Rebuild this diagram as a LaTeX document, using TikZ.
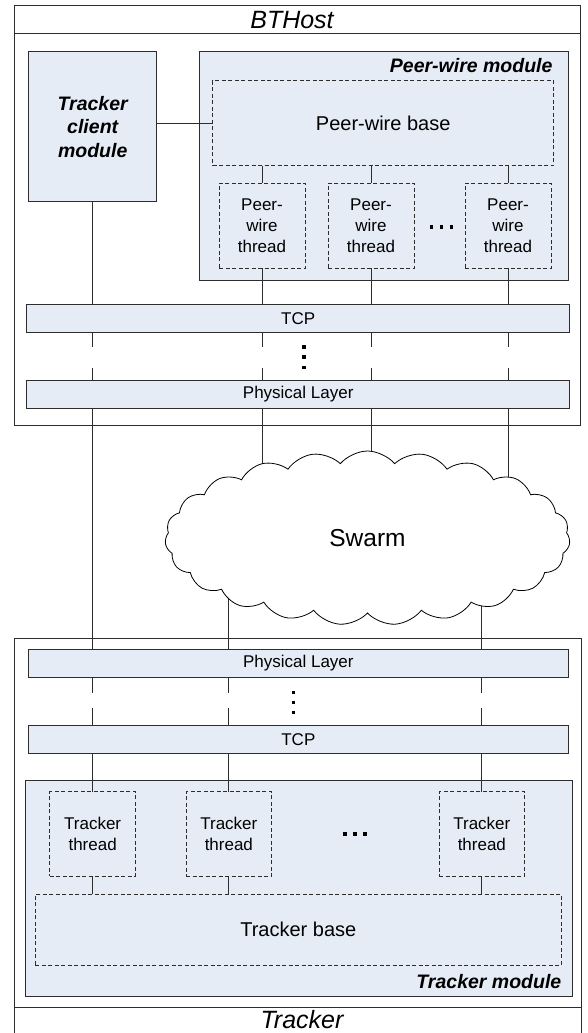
\documentclass[tikz,border=0pt]{standalone}
\usepackage{fontspec}
\setmainfont{Liberation Sans}
\usetikzlibrary{shapes.symbols,backgrounds,calc}
\definecolor{boxfill}{RGB}{230,236,246}
\definecolor{edgecol}{RGB}{45,45,45}
\begin{document}
\begin{tikzpicture}[x=1pt,y=-1pt,
  every node/.style={inner sep=0pt, outer sep=0pt},
  frame/.style={draw=edgecol, line width=1pt, anchor=north west},
  solidbox/.style={draw=edgecol, line width=1pt, fill=boxfill, anchor=north west, align=center},
  dashbox/.style={draw=edgecol, line width=0.9pt, dash pattern=on 4pt off 2.5pt, fill=boxfill, anchor=north west, align=center},
  wire/.style={draw=edgecol, line width=0.9pt},
  dotsq/.style={fill=black, minimum size=3.6pt},
  titlefont/.style={font=\fontsize{25}{30}\selectfont\itshape},
  modfont/.style={font=\fontsize{19.5}{23.7}\selectfont\bfseries\itshape},
  basefont/.style={font=\fontsize{20}{24}\selectfont},
  thrfont/.style={font=\fontsize{17}{20.7}\selectfont},
  barfont/.style={font=\fontsize{17}{20}\selectfont},
]
\useasboundingbox (0,0) rectangle (588,1033);

% ---------------- BTHost ----------------
\node[frame, minimum width=566.5pt, minimum height=419pt] (bthost) at (14,6) {};
\draw[edgecol, line width=1pt] ([yshift=-28pt]bthost.north west) -- ([yshift=-28pt]bthost.north east);
\node[titlefont, anchor=base] (bthosttitle) at (292,29) {BTHost};

\node[solidbox, modfont, minimum width=128pt, minimum height=149.7pt] (tc) at (28.7,52) {Tracker\\client\\module};

\node[solidbox, minimum width=369.3pt, minimum height=228pt] (pwm) at (199,52) {};
\node[modfont, anchor=base east] (pwmlabel) at (552.5,72.7) {Peer-wire module};

\node[dashbox, basefont, minimum width=341pt, minimum height=85pt] (pwb) at (212.7,80.7) {Peer-wire base};

\node[dashbox, thrfont, minimum width=86pt, minimum height=85.3pt] (pt1) at (219,183) {Peer-\\wire\\thread};
\node[dashbox, thrfont, minimum width=86pt, minimum height=85.3pt] (pt2) at (328,183) {Peer-\\wire\\thread};
\node[dashbox, thrfont, minimum width=86pt, minimum height=85.3pt] (pt3) at (465,183) {Peer-\\wire\\thread};

\node[dotsq] (pdA) at (431.5,227) {};
\node[dotsq] (pdB) at (441.5,227) {};
\node[dotsq] (pdC) at (451.5,227) {};

\node[solidbox, barfont, minimum width=543pt, minimum height=28.4pt] (tcp1) at (26.7,304.3) {TCP};
\node[solidbox, barfont, minimum width=543pt, minimum height=28.4pt] (pl1) at (26.7,380.3) {Physical Layer};

\node[dotsq] (vdA) at (303.8,346.7) {};
\node[dotsq] (vdB) at (303.8,357) {};
\node[dotsq] (vdC) at (303.8,367.3) {};

\coordinate (g1top) at (0,347);
\coordinate (g1bot) at (0,368.3);

% ---------------- Swarm ----------------
\node[cloud, cloud puffs=23, cloud puff arc=100, cloud ignores aspect, draw=black, line width=0.8pt, fill=white,
      minimum width=405pt, minimum height=174pt, font=\fontsize{24.5}{29}\selectfont] (swarm) at (367.5,538) {Swarm};

% ---------------- Tracker ----------------
\node[frame, minimum width=567pt, minimum height=397pt] (trk) at (14,638.3) {};
\draw[edgecol, line width=1pt] ([yshift=-369.4pt]trk.north west) -- ([yshift=-369.4pt]trk.north east);
\node[titlefont, anchor=base] (trktitle) at (302,1028.5) {Tracker};

\node[solidbox, barfont, minimum width=539.3pt, minimum height=28.3pt] (pl2) at (28.7,649) {Physical Layer};
\node[solidbox, barfont, minimum width=539.3pt, minimum height=28pt] (tcp2) at (28.7,725.7) {TCP};

\node[dotsq] (vdD) at (293.5,692.3) {};
\node[dotsq] (vdE) at (293.5,702.3) {};
\node[dotsq] (vdF) at (293.5,712.3) {};

\coordinate (g2top) at (0,693.3);
\coordinate (g2bot) at (0,708);

\node[solidbox, minimum width=547pt, minimum height=216.4pt] (tm) at (25,780.3) {};
\node[modfont, anchor=base east] (tmlabel) at (561.3,988) {Tracker module};

\node[dashbox, thrfont, minimum width=85.7pt, minimum height=84.3pt] (tt1) at (49.8,791.7) {Tracker\\thread};
\node[dashbox, thrfont, minimum width=85.7pt, minimum height=84.3pt] (tt2) at (186,791.7) {Tracker\\thread};
\node[dashbox, thrfont, minimum width=85.7pt, minimum height=84.3pt] (tt3) at (439,791.7) {Tracker\\thread};

\node[dotsq] (tdA) at (345,834) {};
\node[dotsq] (tdB) at (355,834) {};
\node[dotsq] (tdC) at (365,834) {};

\node[dashbox, basefont, minimum width=526pt, minimum height=71pt] (ttb) at (35.3,894) {Tracker base};

% ---------------- connectors ----------------
\draw[wire] (pwb.west -| tc.east) -- (pwb.west);
\foreach \t in {pt1,pt2,pt3} {
  \draw[wire] (pwb.south -| \t.north) -- (\t.north);
  \draw[wire] (\t.south) -- (tcp1.north -| \t.south);
}
\draw[wire] (tc.south) -- (tcp1.north -| tc.south);
\foreach \t in {tc,pt1,pt2,pt3} {
  \draw[wire] (tcp1.south -| \t.south) -- (g1top -| \t.south);
  \draw[wire] (g1bot -| \t.south) -- (pl1.north -| \t.south);
}
\draw[wire] (pl1.south -| tc.south) -- (pl2.north -| tc.south);
\begin{pgfonlayer}{background}
  \foreach \t in {pt1,pt2,pt3} {
    \draw[wire] (pl1.south -| \t.south) -- (swarm.center -| \t.south);
  }
  \foreach \t in {tt2,tt3} {
    \draw[wire] (swarm.center -| \t.north) -- (pl2.north -| \t.north);
  }
\end{pgfonlayer}
\foreach \t in {tt1,tt2,tt3} {
  \draw[wire] (pl2.south -| \t.north) -- (g2top -| \t.north);
  \draw[wire] (g2bot -| \t.north) -- (tcp2.north -| \t.north);
  \draw[wire] (tcp2.south -| \t.north) -- (\t.north);
  \draw[wire] (\t.south) -- (ttb.north -| \t.south);
}
\end{tikzpicture}
\end{document}
